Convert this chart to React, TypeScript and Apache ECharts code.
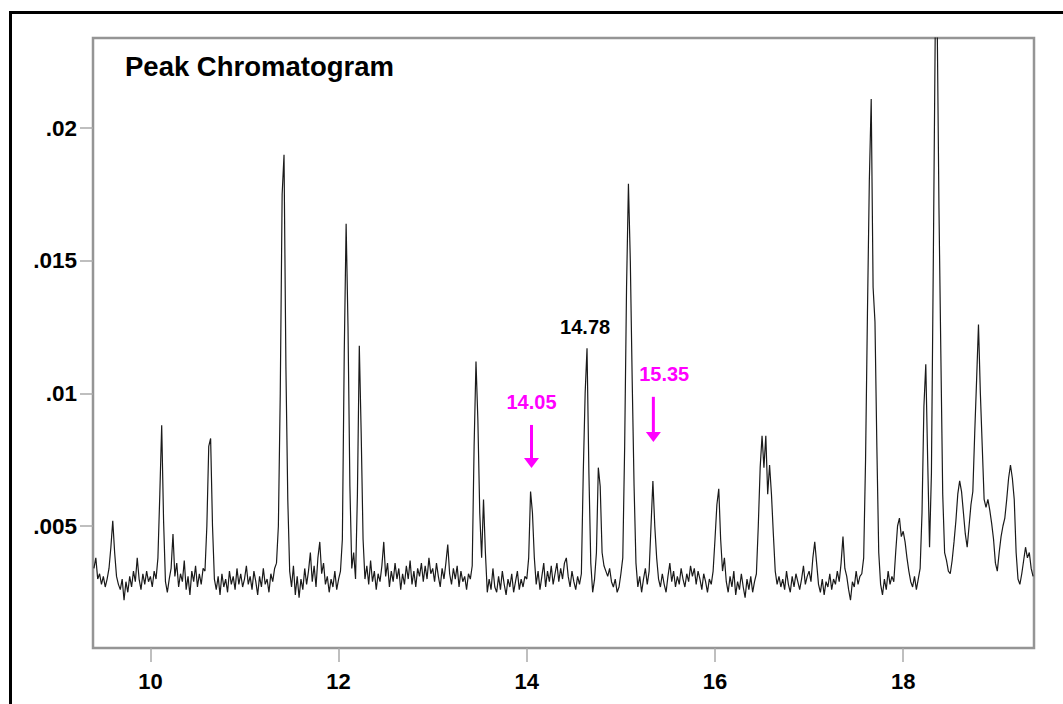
import { useEffect, useRef } from "react";
import * as echarts from "echarts";

// Sampling grid of the trace (minutes)
const T_START = 9.4;
const T_STEP = 0.02;
// Values below are in units of 1e-4 absorbance
const SIGNAL_UNIT = 1e-4;

const seg09 = [34, 38, 30, 32, 28, 31, 27, 30, 34, 42, 52, 40, 31, 28, 26, 30, 22, 29, 25, 31, 27, 33, 29, 38, 30, 26, 32, 28, 33, 29];
const seg10 = [
  31, 27, 33, 30, 38, 62, 88, 52, 29, 25,
  30, 34, 47, 31, 36, 27, 32, 29, 37, 26,
  31, 24, 33, 29, 35, 27, 32, 28, 34, 33,
  50, 80, 83, 50, 30, 26, 31, 24, 32, 27,
  30, 25, 33, 28, 31, 26, 34, 28, 32, 27,
];
const seg11 = [
  30, 35, 28, 31, 26, 33, 29, 24, 31, 27,
  34, 28, 30, 25, 32, 29, 34, 36, 50, 100,
  175, 190, 110, 60, 33, 27, 35, 24, 31, 23,
  30, 26, 34, 28, 33, 40, 29, 35, 27, 38,
  44, 32, 36, 28, 31, 25, 30, 27, 33, 26,
];
const seg12 = [
  30, 33, 45, 115, 164, 125, 65, 34, 40, 30,
  62, 118, 85, 45, 30, 35, 28, 37, 29, 33,
  26, 32, 29, 35, 44, 31, 36, 27, 33, 29,
  36, 30, 34, 26, 32, 28, 35, 30, 37, 28,
  33, 27, 34, 31, 36, 29, 35, 30, 38, 32,
];
const seg13 = [
  34, 29, 36, 31, 27, 34, 30, 36, 43, 32,
  28, 34, 30, 35, 27, 33, 29, 31, 26, 32,
  30, 35, 80, 112, 90, 55, 38, 60, 40, 25,
  30, 26, 34, 27, 25, 31, 26, 33, 28, 24,
  30, 27, 32, 25, 29, 33, 26, 30, 27, 31,
];
const seg14 = [
  30, 38, 63, 55, 38, 28, 33, 26, 31, 36,
  27, 33, 29, 35, 28, 32, 36, 29, 34, 30,
  36, 38, 31, 27, 33, 29, 26, 31, 28, 32,
  70, 100, 117, 70, 36, 25, 30, 40, 72, 65,
  40, 35, 33, 31, 34, 29, 27, 30, 25, 27,
];
const seg15 = [
  32, 38, 80, 140, 179, 150, 105, 65, 36, 27,
  31, 25, 30, 34, 28, 33, 50, 67, 50, 38,
  30, 27, 32, 28, 25, 31, 36, 29, 33, 27,
  31, 28, 34, 30, 27, 32, 29, 35, 31, 34,
  28, 33, 30, 26, 32, 29, 25, 30, 28, 33,
];
const seg16 = [
  45, 58, 64, 45, 33, 38, 29, 25, 31, 27,
  33, 24, 29, 26, 32, 27, 23, 30, 26, 31,
  25, 29, 32, 50, 72, 84, 72, 84, 62, 73,
  62, 47, 33, 28, 31, 27, 30, 26, 33, 28,
  25, 31, 27, 32, 29, 26, 30, 35, 28, 31,
];
const seg17 = [
  33, 29, 38, 44, 36, 28, 25, 30, 24, 29,
  27, 32, 26, 30, 28, 33, 29, 36, 46, 34,
  31, 26, 22, 29, 27, 33, 28, 31, 32, 38,
  75, 130, 180, 211, 140, 127, 80, 40, 28, 24,
  30, 26, 33, 28, 31, 29, 40, 50, 53, 46,
];
const seg18 = [
  48, 44, 38, 33, 29, 27, 31, 26, 30, 34,
  55, 95, 111, 75, 42, 70, 150, 235, 245, 170,
  115, 62, 40, 37, 33, 32, 37, 44, 52, 62,
  67, 63, 55, 47, 42, 50, 58, 63, 85, 105,
  126, 100, 80, 60, 57, 60, 56, 51, 45, 36,
];
const seg19 = [33, 40, 46, 50, 53, 60, 68, 73, 68, 60, 40, 30, 28, 32, 37, 42, 38, 40, 34, 31];

const segments = [seg09, seg10, seg11, seg12, seg13, seg14, seg15, seg16, seg17, seg18, seg19];

const xMin = 9.39;
const xMax = 19.39;
const yMin = 0.0004;
const yMax = 0.0234;
const xTickValues = [10, 12, 14, 16, 18];
const xTickLabels = ["10", "12", "14", "16", "18"];
const yTickValues = [0.005, 0.01, 0.015, 0.02];
const yTickLabels = [".005", ".01", ".015", ".02"];

const titleText = "Peak Chromatogram";

// Peak annotations (data coordinates)
const peakLabels = [
  { text: "14.78", t: 14.62, v: 0.01251, color: "#000000" },
  { text: "14.05", t: 14.05, v: 0.00968, color: "#ff00ff" },
  { text: "15.35", t: 15.46, v: 0.01074, color: "#ff00ff" },
];
const peakArrows = [
  { t: 14.05, top: 0.00881, tip: 0.00719, color: "#ff00ff" },
  { t: 15.345, top: 0.00987, tip: 0.00817, color: "#ff00ff" },
];

const FONT = '"Liberation Sans", Arial, Helvetica, sans-serif';

function buildSeries(): [number, number][] {
  const out: [number, number][] = [];
  let i = 0;
  for (const seg of segments) {
    for (const val of seg) {
      const t = Math.round((T_START + i * T_STEP) * 1000) / 1000;
      out.push([t, val * SIGNAL_UNIT]);
      i++;
    }
  }
  return out;
}

export default function App() {
  const ref = useRef<HTMLDivElement>(null);

  useEffect(() => {
    if (!ref.current) return;
    const chart = echarts.init(ref.current, undefined, { renderer: "svg" });
    const data = buildSeries();
    chart.setOption({
      animation: false,
      backgroundColor: "#ffffff",
      grid: {
        left: 93,
        top: 38,
        right: 29,
        bottom: 56,
        show: true,
        borderColor: "#959595",
        borderWidth: 2.5,
        backgroundColor: "transparent",
      },
      xAxis: {
        type: "value",
        min: xMin,
        max: xMax,
        axisLine: { show: false },
        splitLine: { show: false },
        axisTick: {
          show: true,
          length: 14,
          customValues: xTickValues,
          lineStyle: { color: "#aaaaaa", width: 1.5 },
        },
        axisLabel: {
          show: true,
          customValues: xTickValues,
          margin: 22,
          color: "#000",
          fontSize: 22,
          fontWeight: "bold",
          fontFamily: FONT,
          formatter: (v: number) => xTickLabels[xTickValues.indexOf(v)] ?? "",
        },
      },
      yAxis: {
        type: "value",
        min: yMin,
        max: yMax,
        axisLine: { show: false },
        splitLine: { show: false },
        axisTick: {
          show: true,
          length: 13,
          customValues: yTickValues,
          lineStyle: { color: "#aaaaaa", width: 1.5 },
        },
        axisLabel: {
          show: true,
          customValues: yTickValues,
          margin: 16,
          color: "#000",
          fontSize: 22.5,
          fontWeight: "bold",
          fontFamily: FONT,
          formatter: (v: number) => {
            const idx = yTickValues.findIndex((y) => Math.abs(y - v) < 1e-9);
            return idx >= 0 ? yTickLabels[idx] : "";
          },
        },
      },
      series: [
        {
          type: "line",
          data,
          showSymbol: false,
          symbol: "none",
          clip: true,
          lineStyle: { color: "#1a1a1a", width: 1.2 },
          silent: true,
        },
      ],
    });

    const px = (t: number, v: number) =>
      chart.convertToPixel({ xAxisIndex: 0, yAxisIndex: 0 }, [t, v]) as number[];

    const elements: any[] = [
      {
        type: "rect",
        shape: { x: 10.5, y: 12.5, width: 1200, height: 900 },
        style: { fill: "none", stroke: "#000", lineWidth: 3 },
        silent: true,
      },
      {
        type: "text",
        x: 125,
        y: 66,
        style: {
          text: titleText,
          fill: "#000",
          font: `bold 27.5px ${FONT}`,
          align: "left",
          verticalAlign: "middle",
        },
      },
    ];
    for (const l of peakLabels) {
      const [x, y] = px(l.t, l.v);
      elements.push({
        type: "text",
        x,
        y,
        style: {
          text: l.text,
          fill: l.color,
          font: `bold 20px ${FONT}`,
          align: "center",
          verticalAlign: "middle",
        },
      });
    }
    const headH = 10;
    const headW = 15;
    for (const a of peakArrows) {
      const [x, yTop] = px(a.t, a.top);
      const [, yTip] = px(a.t, a.tip);
      elements.push({
        type: "line",
        shape: { x1: x, y1: yTop, x2: x, y2: yTip - headH + 1 },
        style: { stroke: a.color, lineWidth: 3 },
      });
      elements.push({
        type: "polygon",
        shape: {
          points: [
            [x - headW / 2, yTip - headH],
            [x + headW / 2, yTip - headH],
            [x, yTip],
          ],
        },
        style: { fill: a.color },
      });
    }
    chart.setOption({ graphic: { elements } });

    return () => chart.dispose();
  }, []);

  return (
    <div
      ref={ref}
      style={{ position: "absolute", left: 0, top: 0, width: 1063, height: 704 }}
    />
  );
}
